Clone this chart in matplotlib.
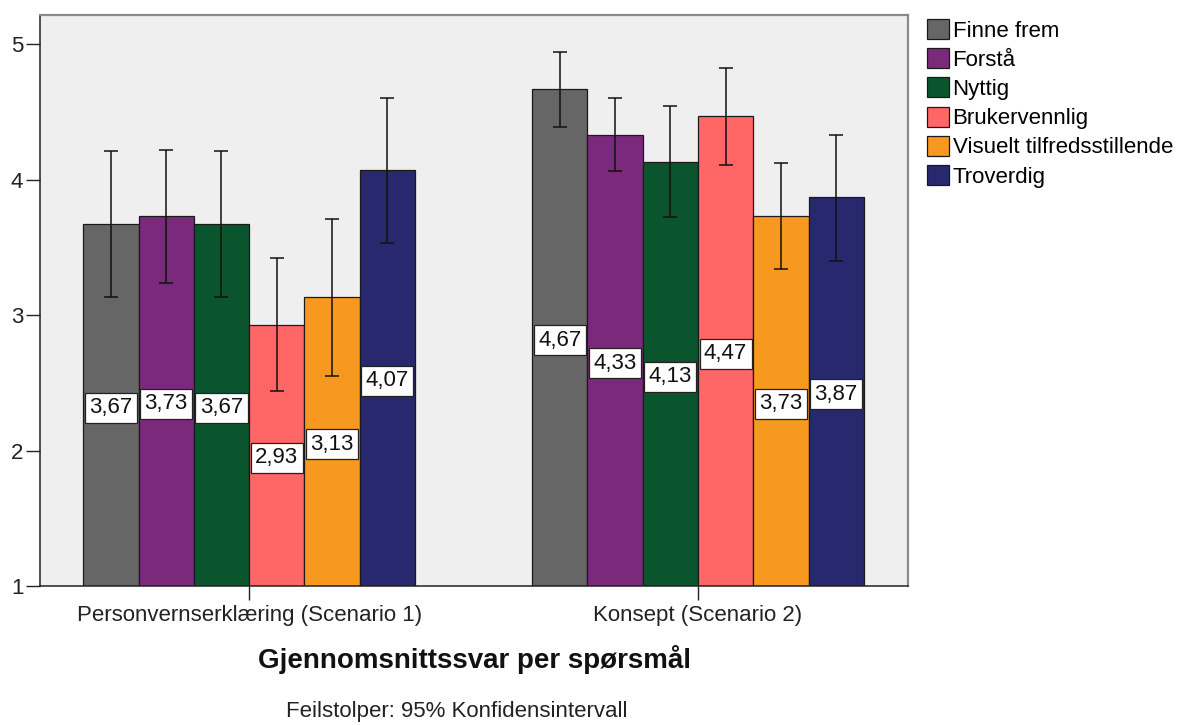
import numpy as np
import matplotlib
matplotlib.use("Agg")
import matplotlib.pyplot as plt

plt.rcParams["font.family"] = ["Liberation Sans", "DejaVu Sans"]

# --- data ---
categories = ["Personvernserklæring (Scenario 1)", "Konsept (Scenario 2)"]
series = ["Finne frem", "Forstå", "Nyttig", "Brukervennlig",
          "Visuelt tilfredsstillende", "Troverdig"]
colors = ["#666666", "#7B2A7B", "#0B552E", "#FF6666", "#F7991F", "#28286E"]

finne_frem = [3.67, 4.67]
forsta = [3.73, 4.33]
nyttig = [3.67, 4.13]
brukervennlig = [2.93, 4.47]
visuelt = [3.13, 3.73]
troverdig = [4.07, 3.87]

# 95% CI lower / upper bounds
finne_frem_ci = ([3.13, 4.39], [4.21, 4.94])
forsta_ci = ([3.24, 4.06], [4.22, 4.60])
nyttig_ci = ([3.13, 3.72], [4.21, 4.54])
brukervennlig_ci = ([2.44, 4.11], [3.42, 4.82])
visuelt_ci = ([2.55, 3.34], [3.71, 4.12])
troverdig_ci = ([3.53, 3.40], [4.60, 4.33])

means = [finne_frem, forsta, nyttig, brukervennlig, visuelt, troverdig]
cis = [finne_frem_ci, forsta_ci, nyttig_ci, brukervennlig_ci, visuelt_ci, troverdig_ci]

FS = 16
W, H = 1182, 725
fig = plt.figure(figsize=(W / 100, H / 100), dpi=100, facecolor="white")
ax = fig.add_axes([40 / W, 1 - 586 / H, 868 / W, 571.5 / H])
ax.set_facecolor("#EFEFEF")

x = np.arange(len(categories))
bw = 0.1232
handles = []
for i, (name, vals, (lo, hi), col) in enumerate(zip(series, means, cis, colors)):
    pos = x + (i - 2.5) * bw
    vals = np.array(vals)
    b = ax.bar(pos, vals - 1, bottom=1, width=bw, color=col,
               edgecolor="#1a1a1a", linewidth=0.9, label=name, zorder=2)
    handles.append(b)
    yerr = np.vstack([vals - np.array(lo), np.array(hi) - vals])
    ax.errorbar(pos, vals, yerr=yerr, fmt="none", ecolor="#111111",
                elinewidth=1.1, capsize=5, capthick=1.1, zorder=3)
    for px, v in zip(pos, vals):
        ax.text(px, (1 + v) / 2 - 0.02, f"{v:.2f}".replace(".", ","),
                ha="center", va="center", fontsize=FS, color="#111111", zorder=4,
                bbox=dict(boxstyle="square,pad=0.2", fc="white", ec="#222222", lw=0.9))

ax.set_xlim(-0.466, 1.468)
ax.set_ylim(1, 5.218)
ax.set_yticks([1, 2, 3, 4, 5])
ax.set_xticks(x)
ax.set_xticklabels(categories)
ax.tick_params(axis="both", length=10, width=1, color="#222222",
               labelsize=FS, labelcolor="#222222", pad=2)
ax.tick_params(axis="x", pad=4)

for s in ("left", "bottom"):
    ax.spines[s].set_color("#222222")
    ax.spines[s].set_linewidth(1.1)
for s in ("top", "right"):
    ax.spines[s].set_color("#8a8a8a")
    ax.spines[s].set_linewidth(1.6)

fig.text(475 / W, 1 - 660 / H, "Gjennomsnittssvar per spørsmål",
         ha="center", va="center", fontsize=20, fontweight="bold", color="#111111")
fig.text(457 / W, 1 - 711 / H, "Feilstolper: 95% Konfidensintervall",
         ha="center", va="center", fontsize=FS, color="#222222")

fig.legend(handles=handles, labels=series, loc="upper left",
           bbox_to_anchor=(927 / W, 1 - 19 / H), frameon=False, fontsize=FS,
           handlelength=1.0, handleheight=1.0, handletextpad=0.15,
           labelspacing=0.3, borderpad=0, borderaxespad=0)

fig.savefig("out.png", dpi=100, facecolor="white")
